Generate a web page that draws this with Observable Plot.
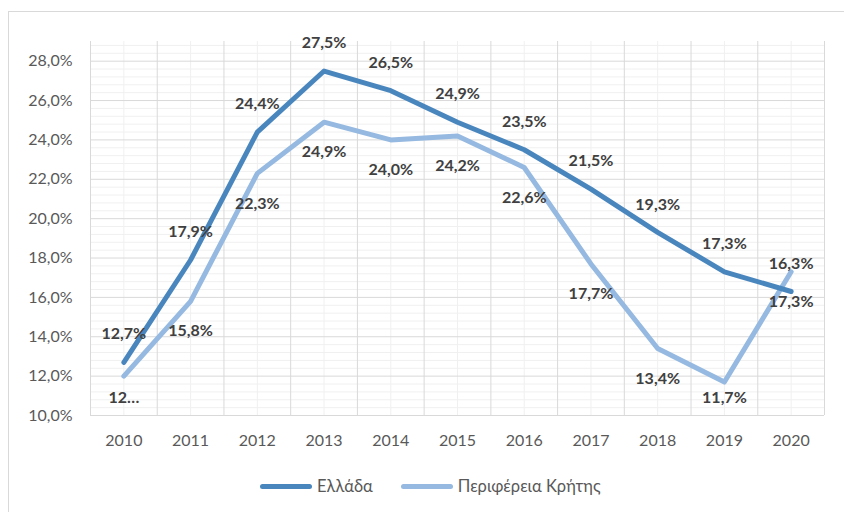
<!DOCTYPE html>
<html><head><meta charset="utf-8">
<script src="https://cdn.jsdelivr.net/npm/d3@7"></script>
<script src="https://cdn.jsdelivr.net/npm/@observablehq/plot@0.6"></script>
<style>
body{margin:0;background:#fff;font-family:Lato,"Liberation Sans",sans-serif;}
#wrap{position:relative;width:844px;height:512px;overflow:hidden;background:#fff;}
#frame{position:absolute;left:8px;top:11px;width:900px;height:600px;border-top:1px solid #d9d9d9;border-left:1px solid #d9d9d9;pointer-events:none;}
#chart{position:absolute;left:0;top:0;}
#legend{position:absolute;top:476px;left:260px;display:flex;align-items:center;font-size:16.5px;color:#595959;white-space:nowrap;}
.sw{display:inline-block;width:52px;height:5px;border-radius:3px;margin-right:5px;}
.item{display:flex;align-items:center;margin-right:28px;}
</style>
</head><body>
<div id="wrap"><div id="chart"></div><div id="frame"></div><div id="legend"></div></div>
<script>
const years = [2010, 2011, 2012, 2013, 2014, 2015, 2016, 2017, 2018, 2019, 2020];
const greece = [12.7, 17.9, 24.4, 27.5, 26.5, 24.9, 23.5, 21.5, 19.3, 17.3, 16.3];
const crete = [12.0, 15.8, 22.3, 24.9, 24.0, 24.2, 22.6, 17.7, 13.4, 11.7, 17.3];
const creteLabels = ["12…", "15,8%", "22,3%", "24,9%", "24,0%", "24,2%", "22,6%", "17,7%", "13,4%", "11,7%", "17,3%"];
const seriesNames = ["Ελλάδα", "Περιφέρεια Κρήτης"];
const colors = ["#4a86be", "#95b9e0"];
const yTicks = [10, 12, 14, 16, 18, 20, 22, 24, 26, 28];
const yMax = 29;

const fmt = v => v.toFixed(1).replace(".", ",") + "%";
const gData = years.map((y, i) => ({year: y, value: greece[i], label: fmt(greece[i])}));
const cData = years.map((y, i) => ({year: y, value: crete[i], label: creteLabels[i]}));

const minorY = d3.range(0, Math.round((yMax - yTicks[0]) / 0.4)).map(k => yTicks[0] + k * 0.4).filter(v => !yTicks.some(t => Math.abs(t - v) < 1e-6));
const boundaries = [years[0] - 0.5, ...years.map(y => y + 0.5)];

// labels below the light line are kept inside the plot area (as the spreadsheet does)
const pxPerUnit = (460 - 41 - 45) / (yMax - yTicks[0]);
const below = d => Math.max(d.value - 30 / pxPerUnit, yTicks[0] + 18 / pxPerUnit);

const chart = Plot.plot({
  width: 844,
  height: 460,
  marginLeft: 90,
  marginRight: 20,
  marginTop: 41,
  marginBottom: 45,
  style: {fontSize: "16px", fontFamily: "Lato, 'Liberation Sans', sans-serif", color: "#595959", background: "transparent"},
  x: {domain: [years[0] - 0.5, years[years.length - 1] + 0.5]},
  y: {domain: [yTicks[0], yMax]},
  marks: [
    Plot.ruleY(minorY, {stroke: "#f0f0f0", strokeWidth: 1}),
    Plot.ruleX(years, {stroke: "#f0f0f0", strokeWidth: 1}),
    Plot.ruleY(yTicks, {stroke: "#d9d9d9", strokeWidth: 1}),
    Plot.ruleX(boundaries, {stroke: "#d9d9d9", strokeWidth: 1}),
    Plot.axisX({ticks: years, tickFormat: d => String(d), tickSize: 0, tickPadding: 19, label: null, fill: "#595959"}),
    Plot.axisY({ticks: yTicks, tickFormat: fmt, tickSize: 0, tickPadding: 18, label: null, fill: "#595959"}),
    Plot.line(cData, {x: "year", y: "value", stroke: colors[1], strokeWidth: 5, strokeLinecap: "round", strokeLinejoin: "round"}),
    Plot.line(gData, {x: "year", y: "value", stroke: colors[0], strokeWidth: 5, strokeLinecap: "round", strokeLinejoin: "round"}),
    Plot.text(gData, {x: "year", y: "value", text: "label", dy: -28, fill: "#404040", fontWeight: "bold", fontSize: 16}),
    Plot.text(cData, {x: "year", y: below, text: "label", fill: "#404040", fontWeight: "bold", fontSize: 16})
  ]
});
document.getElementById("chart").appendChild(chart);

const legend = document.getElementById("legend");
seriesNames.forEach((name, i) => {
  const item = document.createElement("div");
  item.className = "item";
  const sw = document.createElement("span");
  sw.className = "sw";
  sw.style.background = colors[i];
  const t = document.createElement("span");
  t.textContent = name;
  item.appendChild(sw);
  item.appendChild(t);
  legend.appendChild(item);
});
</script>
</body></html>
